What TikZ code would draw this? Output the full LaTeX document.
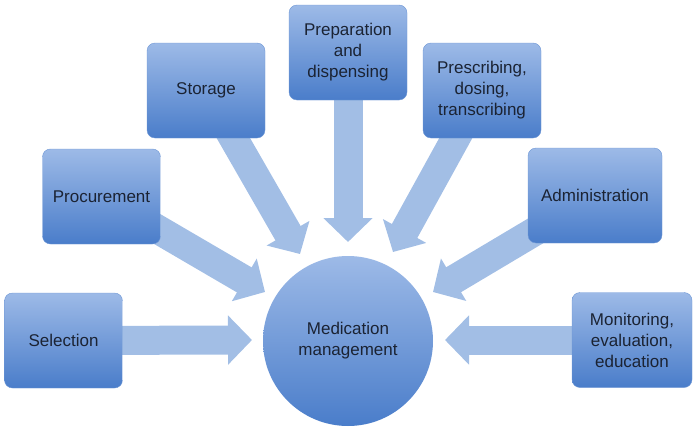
\documentclass[tikz,border=0pt]{standalone}
\usepackage{fontspec}
\setmainfont{Liberation Sans}
\usepackage{tikz}
\usepackage{xcolor}
\usetikzlibrary{arrows.meta,backgrounds}
\definecolor{boxtop}{HTML}{9DBAE7}
\definecolor{boxbot}{HTML}{4A7DCA}
\definecolor{fatblue}{HTML}{A2BEE5}
\definecolor{inktext}{HTML}{1B2333}

\begin{document}
\begin{tikzpicture}[
  x=1pt, y=-1pt,
  stage/.style={rounded corners=8pt, draw=boxbot!80, line width=0.4pt,
                top color=boxtop, bottom color=boxbot,
                minimum width=118pt, minimum height=95pt, inner sep=2pt,
                align=center, text=inktext,
                font=\fontsize{17}{21}\selectfont},
  hub/.style={circle, top color=boxtop, bottom color=boxbot,
              minimum size=170pt, inner sep=0pt,
              align=center, text=inktext,
              font=\fontsize{17}{21}\selectfont},
  fat/.style={draw=fatblue, line width=29pt,
              -{Triangle[length=24pt 0 0, width=48pt 0]}}
]
  \useasboundingbox (0,0) rectangle (696,431);

  \node[hub] (med) at (348,341) {Medication\\management};

  \node[stage] (sel) at (63.5,340.5) {Selection};
  \node[stage] (proc) at (101.5,196.5) {Procurement};
  \node[stage] (stor) at (206,90.5) {Storage};
  \node[stage] (prep) at (348,52.5) {Preparation\\and\\dispensing};
  \node[stage] (presc) at (482,90.5) {Prescribing,\\dosing,\\transcribing};
  \node[stage, minimum width=134pt] (admin) at (595,195.5) {Administration};
  \node[stage, minimum width=120pt] (monit) at (632,340) {Monitoring,\\evaluation,\\education};

  % arrow tips stop short of the hub
  \coordinate (tSel) at (252,340);
  \coordinate (tProc) at (265,292);
  \coordinate (tStor) at (300,254);
  \coordinate (tPrep) at (348,242);
  \coordinate (tPresc) at (393,252);
  \coordinate (tAdmin) at (433,292);
  \coordinate (tMonit) at (445,340);

  \begin{scope}[on background layer]
    \draw[fat] (sel.center) -- (tSel);
    \draw[fat] (proc.center) -- (tProc);
    \draw[fat] (stor.center) -- (tStor);
    \draw[fat] (prep.center) -- (tPrep);
    \draw[fat] (presc.center) -- (tPresc);
    \draw[fat] (admin.center) -- (tAdmin);
    \draw[fat] (monit.center) -- (tMonit);
  \end{scope}
\end{tikzpicture}
\end{document}
